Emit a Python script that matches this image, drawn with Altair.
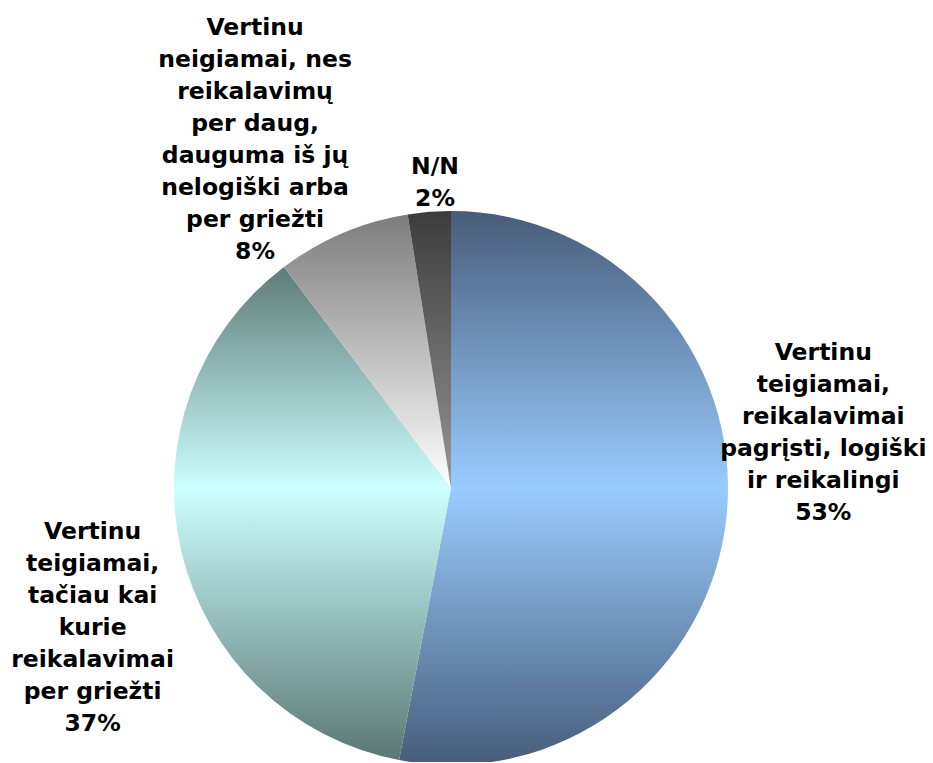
import altair as alt
import pandas as pd

# ---- data ----
categories = [
    "Vertinu\nteigiamai,\nreikalavimai\npagrįsti, logiški\nir reikalingi",
    "Vertinu\nteigiamai,\ntačiau kai\nkurie\nreikalavimai\nper griežti",
    "Vertinu\nneigiamai, nes\nreikalavimų\nper daug,\ndauguma iš jų\nnelogiški arba\nper griežti",
    "N/N",
]
values = [53.0, 36.7, 7.8, 2.5]
pct_labels = ["53%", "37%", "8%", "2%"]
order = [0, 1, 2, 3]

df = pd.DataFrame({"cat": categories, "value": values, "pct": pct_labels, "order": order})

# ---- styling ----
def grad(stops):
    return alt.LinearGradient(
        gradient="linear", x1=0, x2=0, y1=0, y2=1,
        stops=[alt.GradientStop(color=c, offset=o) for o, c in stops],
    )

fills = [
    grad([(0, "#475c7a"), (0.5, "#99ccff"), (1, "#475c7a")]),
    grad([(0, "#5e7c78"), (0.45, "#ccffff"), (1, "#5b7774")]),
    grad([(0, "#7c7c7c"), (1, "#ffffff")]),
    grad([(0, "#3c3c3c"), (1, "#969696")]),
]
# label placement: radius and pixel nudges per slice
label_r = [384, 368, 378, 306]
label_dx = [-10, 0, -48, 8]
label_dy = [-171, -40, -112, -16]

CX, CY, R = 443, 480, 277

base = alt.Chart(df).transform_stack(
    stack="value", groupby=[], as_=["start", "end"], sort=[alt.SortField("order")]
).transform_calculate(
    mid="(datum.start + datum.end) / 2",
    label="datum.cat + '\\n' + datum.pct",
)

theta_scale = alt.Scale(domain=[0, 100])

layers = []
for i, c in enumerate(categories):
    sel = base.transform_filter(alt.datum.order == order[i])
    arc = sel.mark_arc(outerRadius=R, fill=fills[i], stroke=None).encode(
        theta=alt.Theta("start:Q", scale=theta_scale),
        theta2="end:Q",
        x=alt.value(CX),
        y=alt.value(CY),
    )
    layers.append(arc)

for i, c in enumerate(categories):
    sel = base.transform_filter(alt.datum.order == order[i])
    txt = sel.mark_text(
        font="DejaVu Sans",
        fontWeight="bold",
        fontSize=23.5,
        lineHeight=32,
        lineBreak="\n",
        align="center",
        baseline="middle",
        color="black",
        dx=label_dx[i],
        dy=label_dy[i],
    ).encode(
        theta=alt.Theta("mid:Q", scale=theta_scale),
        radius=alt.value(label_r[i]),
        x=alt.value(CX),
        y=alt.value(CY),
        text="label:N",
    )
    layers.append(txt)

chart = alt.layer(*layers).properties(
    width=917,
    height=754,
    autosize=alt.AutoSizeParams(type="none"),
    padding=0,
).configure_view(stroke=None)

chart.save("out.html", embed_options={"renderer": "svg", "actions": False})
